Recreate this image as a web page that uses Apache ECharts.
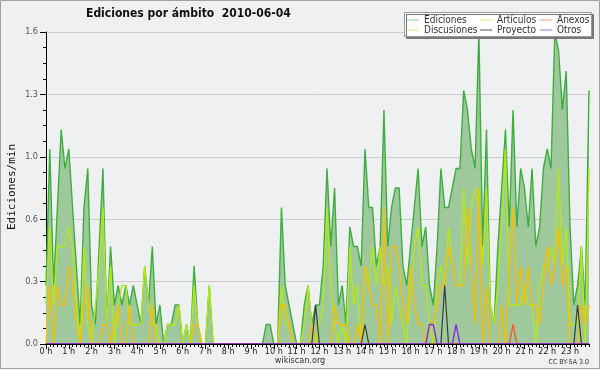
<!DOCTYPE html>
<html><head><meta charset="utf-8">
<script src="https://cdn.jsdelivr.net/npm/echarts@6/dist/echarts.min.js"></script>
<style>html,body{margin:0;padding:0;background:#f0f0f0}#c{width:600px;height:370px}</style>
</head><body><div id="c"></div>
<script>
const hourLabels = ['0 h','1 h','2 h','3 h','4 h','5 h','6 h','7 h','8 h','9 h','10 h','11 h','12 h','13 h','14 h','15 h','16 h','17 h','18 h','19 h','20 h','21 h','22 h','23 h'];
const yTicks = [0, 0.32, 0.64, 0.96, 1.28, 1.6];

const ediciones = [
0.3,1.0,0.3,0.7,1.1,0.9,1.0,0.7,0.4,0.1,0.7,0.9,
0.2,0.1,0.5,0.9,0.1,0.5,0.2,0.3,0.2,0.3,0.2,0.3,
0.2,0.1,0.4,0.2,0.5,0.1,0.2,0,0.1,0.1,0.2,0.2,
0,0.1,0,0.4,0.1,0,0,0.3,0,0,0,0,
0,0,0,0,0,0,0,0,0,0,0.1,0.1,
0,0,0.7,0.3,0.2,0.1,0,0,0.2,0.3,0.1,0.2,
0.2,0.4,0.9,0.5,0.8,0.2,0.3,0.1,0.6,0.5,0.5,0.4,
1.0,0.7,0.7,0.4,0.5,1.2,0.5,0.7,0.8,0.8,0.4,0.3,
0.5,0.7,0.9,0.5,0.6,0.3,0.2,0.5,0.9,0.7,0.7,0.8,
0.9,0.9,1.3,1.2,1.0,0.9,1.6,0.5,1.1,0.2,0.1,0.5,
0.8,1.1,0.6,1.2,0.6,0.9,0.8,0.6,0.9,0.5,0.6,0.9,
1.0,0.9,1.6,1.5,1.2,1.4,0.6,0.2,0.3,0.5,0.2,1.3];

const articulos = [
0.2,0.6,0.2,0.5,0.5,0.5,0.6,0.5,0.2,0,0.5,0.1,
0,0.2,0.4,0.7,0.1,0.4,0,0.2,0.3,0.3,0.1,0.1,
0.1,0.1,0.4,0.2,0.1,0.1,0,0,0.1,0.1,0.1,0.2,
0,0.1,0,0.3,0.1,0,0,0.3,0,0,0,0,
0,0,0,0,0,0,0,0,0,0,0,0,
0,0,0.3,0.1,0.1,0,0,0,0.1,0.3,0.1,0,
0.1,0.2,0.7,0.3,0.1,0,0.1,0,0.5,0.2,0.3,0,
0.4,0.3,0.5,0.3,0.5,0.3,0.4,0.1,0.3,0.2,0.1,0,
0.3,0.5,0.6,0.3,0.3,0.1,0,0.3,0.4,0.3,0.6,0.4,
0.3,0.3,0.8,0.4,0.7,0.8,0.7,0.4,0.8,0.2,0.1,0.3,
0.6,1.0,0.2,0.2,0.2,0.2,0.3,0.2,0.2,0,0.3,0.4,
0.4,0.5,0.4,0.9,0.4,0.6,0.1,0.1,0.1,0.5,0,0.9];

const discusiones = [
0,0.3,0,0.3,0.2,0.2,0.4,0.3,0.1,0,0.2,0.3,
0,0,0,0.1,0.1,0,0.1,0.2,0,0,0.2,0,
0,0,0,0,0.2,0,0,0,0,0,0,0,
0,0,0,0.1,0.1,0,0,0,0,0,0,0,
0,0,0,0,0,0,0,0,0,0,0,0,
0,0,0.2,0.2,0.1,0,0,0,0,0,0.1,0,
0,0,0,0,0.2,0.1,0.1,0.1,0,0,0.1,0,
0.4,0.3,0.2,0.2,0,0.7,0,0.5,0.5,0.4,0.2,0.1,
0.4,0.2,0.1,0.1,0,0.1,0.1,0.2,0.3,0.3,0.5,0.4,
0.3,0.3,0.3,0.7,0.4,0.1,0.8,0,0.3,0,0,0,
0.2,0,0.4,0.7,0.2,0.4,0.2,0.4,0.2,0.2,0.1,0.3,
0.5,0.3,0.4,0.6,0.3,0.4,0,0,0,0.2,0.1,0.2];

const anexos = [
0,0,0,0,0,0,0,0,0,0,0,0,
0,0,0,0,0,0,0,0,0,0,0,0,
0,0,0,0,0,0,0,0,0,0,0,0,
0,0,0,0,0,0,0,0,0,0,0,0,
0,0,0,0,0,0,0,0,0,0,0,0,
0,0,0,0,0,0,0,0,0,0,0,0,
0,0,0,0,0,0,0,0,0,0,0,0,
0,0,0,0,0,0,0,0,0,0,0,0,
0,0,0,0,0,0,0,0,0,0,0,0,
0,0,0,0,0,0,0,0,0,0,0,0,
0,0,0,0.1,0,0,0,0,0,0,0,0,
0,0,0,0,0,0,0,0,0,0,0,0];

const proyecto = [
0,0,0,0,0,0,0,0,0,0,0,0,
0,0,0,0,0,0,0,0,0,0,0,0,
0,0,0,0,0,0,0,0,0,0,0,0,
0,0,0,0,0,0,0,0,0,0,0,0,
0,0,0,0,0,0,0,0,0,0,0,0,
0,0,0,0,0,0,0,0,0,0,0,0.2,
0,0,0,0,0,0,0,0,0,0,0,0,
0.1,0,0,0,0,0,0,0,0,0,0,0,
0,0,0,0,0,0,0,0,0,0.3,0,0,
0,0,0,0,0,0,0,0,0,0,0,0,
0,0,0,0,0,0,0,0,0,0,0,0,
0,0,0,0,0,0,0,0,0.2,0,0,0];

const otros = [
0,0,0,0,0,0,0,0,0,0,0,0,
0,0,0,0,0,0,0,0,0,0,0,0,
0,0,0,0,0,0,0,0,0,0,0,0,
0,0,0,0,0,0,0,0,0,0,0,0,
0,0,0,0,0,0,0,0,0,0,0,0,
0,0,0,0,0,0,0,0,0,0,0,0,
0,0,0,0,0,0,0,0,0,0,0,0,
0,0,0,0,0,0,0,0,0,0,0,0,
0,0,0,0,0,0.1,0.1,0,0,0,0,0,
0.1,0,0,0,0,0,0,0,0,0,0,0,
0,0,0,0,0,0,0,0,0,0,0,0,
0,0,0,0,0,0,0,0,0,0,0,0];

const categories = [];
for (let h = 0; h < 24; h++) for (let m = 0; m < 60; m += 10) categories.push(h + ':' + String(m).padStart(2, '0'));

const FONT = '"DejaVu Sans Condensed", "DejaVu Sans", sans-serif';

const chart = echarts.init(document.getElementById('c'), null, {renderer: 'canvas'});

function lg(name, color, left, top) {
  return {
    data: [{name: name, itemStyle: {color: color}}],
    left: left, top: top, padding: 0, itemGap: 0,
    icon: 'rect', itemWidth: 12, itemHeight: 1,
    selectedMode: false, z: 20,
    textStyle: {fontFamily: FONT, fontSize: 10, color: '#333'}
  };
}

function ln(name, data, color, width, z) {
  return {
    name: name, type: 'line', data: data, showSymbol: false, symbol: 'none',
    itemStyle: {color: color}, lineStyle: {color: color, width: width}, z: z, animation: false
  };
}

const edSeries = ln('Ediciones', ediciones, '#3fae3f', 1.4, 2);
edSeries.areaStyle = {color: '#9fc99d', opacity: 1};

chart.setOption({
  backgroundColor: '#f0f0f0',
  animation: false,
  grid: {left: 46, right: 11, top: 32, bottom: 26, show: true, backgroundColor: '#eef0f2', borderWidth: 0},
  legend: [
    lg('Ediciones', '#8fd88f', 407, 15),
    lg('Artículos', '#d2ef7a', 480, 15),
    lg('Anexos', '#f4a27a', 540, 15),
    lg('Discusiones', '#f8d77a', 407, 25),
    lg('Proyecto', '#555555', 480, 25),
    lg('Otros', '#a070f0', 540, 25)
  ],
  xAxis: [
    {
      type: 'category', data: categories, boundaryGap: false, z: 10,
      axisLine: {lineStyle: {color: '#000', width: 1}},
      axisTick: {interval: 0, length: 3, lineStyle: {color: '#000'}},
      axisLabel: {interval: (i) => i % 6 === 0, formatter: (v, i) => hourLabels[Math.round(i / 6)],
        fontFamily: FONT, fontSize: 9, color: '#222', margin: 3},
      splitLine: {show: false}
    },
    {
      type: 'category', data: categories, boundaryGap: false, position: 'bottom', z: 10,
      axisLine: {show: false},
      axisTick: {interval: (i) => i % 6 === 0, length: 5, lineStyle: {color: '#000'}},
      axisLabel: {show: false}, splitLine: {show: false}
    }
  ],
  yAxis: {
    type: 'value', min: yTicks[0], max: yTicks[yTicks.length - 1], interval: yTicks[1],
    axisLine: {show: true, lineStyle: {color: '#000'}},
    axisTick: {show: true, length: 6, lineStyle: {color: '#000'}},
    minorTick: {show: true, splitNumber: 4, length: 3, lineStyle: {color: '#000'}},
    splitLine: {show: true, lineStyle: {color: '#cccccc', width: 1}},
    axisLabel: {formatter: (v) => v.toFixed(1), fontFamily: FONT, fontSize: 9, color: '#555', margin: 8}
  },
  series: [
    edSeries,
    ln('Artículos', articulos, '#b4e61c', 1.4, 3),
    ln('Discusiones', discusiones, '#f4bf0a', 1.4, 4),
    ln('Anexos', anexos, '#f0622a', 1.4, 5),
    ln('Proyecto', proyecto, '#3a3a3a', 1.2, 6),
    ln('Otros', otros, '#8a2be2', 1.4, 7)
  ],
  graphic: [
    {type: 'rect', silent: true, z: 100, shape: {x: 0.5, y: 0.5, width: 599, height: 368},
      style: {fill: 'none', stroke: '#a0a0a0', lineWidth: 1}},
    {type: 'rect', silent: true, z: 15, shape: {x: 404.5, y: 12.5, width: 187, height: 24},
      style: {fill: '#ffffff', stroke: '#9a9a9a', lineWidth: 1, shadowColor: '#777', shadowOffsetX: 2, shadowOffsetY: 2, shadowBlur: 0}},
    {type: 'text', silent: true, z: 15, x: 86, y: 14,
      style: {text: 'Ediciones por ámbito  2010-06-04', fontFamily: FONT, fontWeight: 'bold', fontSize: 12, fill: '#111', align: 'left', verticalAlign: 'middle'}},
    {type: 'text', silent: true, z: 15, x: 12, y: 187, rotation: Math.PI / 2,
      style: {text: 'Ediciones/min', fontFamily: '"DejaVu Sans Mono", monospace', fontSize: 11, fill: '#111', align: 'center', verticalAlign: 'middle'}},
    {type: 'text', silent: true, z: 15, x: 300, y: 361,
      style: {text: 'wikiscan.org', fontFamily: FONT, fontSize: 9, fill: '#333', align: 'center', verticalAlign: 'middle'}},
    {type: 'text', silent: true, z: 15, x: 589, y: 362,
      style: {text: 'CC BY-SA 3.0', fontFamily: FONT, fontSize: 7, fill: '#333', align: 'right', verticalAlign: 'middle'}}
  ]
});
</script></body></html>
